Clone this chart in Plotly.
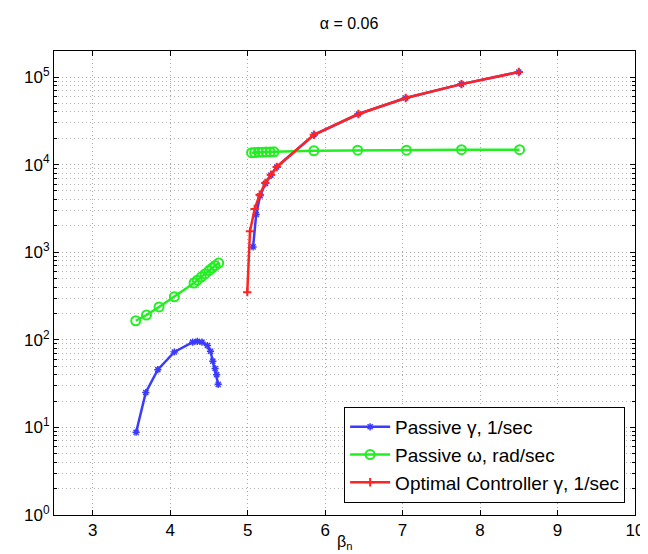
import plotly.graph_objects as go

# Passive gamma, 1/sec (lower arc + upper branch hidden under red)
passive_gamma_x1 = [3.56, 3.685, 3.84, 4.054, 4.29, 4.35, 4.41, 4.48, 4.52, 4.55, 4.58, 4.60, 4.62]
passive_gamma_y1 = [8.8, 25, 45.6, 72.6, 94, 96, 94, 86, 74, 57, 47, 40, 31]
passive_gamma_x2 = [5.07, 5.11, 5.16, 5.23, 5.30, 5.375, 5.855, 6.43, 7.04, 7.76, 8.5]
passive_gamma_y2 = [1150, 2700, 4400, 6100, 7600, 9400, 21900, 37800, 57600, 83000, 114000]

# Passive omega, rad/sec
passive_omega_x1 = [3.555, 3.694, 3.856, 4.054, 4.308, 4.35, 4.40, 4.45, 4.50, 4.54, 4.58, 4.626]
passive_omega_y1 = [165, 192, 237, 310, 445, 480, 520, 565, 615, 660, 705, 753]
passive_omega_x2 = [5.05, 5.09, 5.14, 5.19, 5.24, 5.29, 5.34, 5.855, 6.42, 7.05, 7.76, 8.51]
passive_omega_y2 = [13700, 13750, 13800, 13850, 13900, 13950, 14000, 14400, 14600, 14600, 14800, 14800]

# Optimal controller gamma, 1/sec
opt_gamma_x = [4.995, 5.03, 5.09, 5.155, 5.228, 5.30, 5.375, 5.855, 6.43, 7.04, 7.76, 8.5]
opt_gamma_y = [350, 1730, 3110, 4530, 6170, 7680, 9400, 21900, 37800, 57600, 83000, 114000]

x_ticks = [3, 4, 5, 6, 7, 8, 9, 10]
y_ticks = [1, 10, 100, 1000, 10000, 100000]
y_tick_labels = ["10<sup>0</sup>", "10<sup>1</sup>", "10<sup>2</sup>", "10<sup>3</sup>", "10<sup>4</sup>", "10<sup>5</sup>"]

BLUE = "#3b3bff"
GREEN = "#22ee22"
RED = "#ff2424"
FONT = "Liberation Sans, Arial"
GRID_DASH = "1px,3px"

fig = go.Figure()
fig.add_trace(go.Scatter(x=passive_gamma_x1, y=passive_gamma_y1, mode="lines+markers",
                         name="Passive \u03b3, 1/sec", legendgroup="g",
                         line=dict(color=BLUE, width=2.5),
                         marker=dict(symbol="asterisk-open", size=6, color=BLUE, line=dict(color=BLUE, width=1.5))))
fig.add_trace(go.Scatter(x=passive_gamma_x2, y=passive_gamma_y2, mode="lines+markers",
                         showlegend=False, legendgroup="g",
                         line=dict(color=BLUE, width=2.5),
                         marker=dict(symbol="asterisk-open", size=6, color=BLUE, line=dict(color=BLUE, width=1.5))))
fig.add_trace(go.Scatter(x=passive_omega_x1, y=passive_omega_y1, mode="lines+markers",
                         name="Passive \u03c9, rad/sec", legendgroup="w",
                         line=dict(color=GREEN, width=2.5),
                         marker=dict(symbol="circle-open", size=9, color=GREEN, line=dict(color=GREEN, width=2))))
fig.add_trace(go.Scatter(x=passive_omega_x2, y=passive_omega_y2, mode="lines+markers",
                         showlegend=False, legendgroup="w",
                         line=dict(color=GREEN, width=2.5),
                         marker=dict(symbol="circle-open", size=9, color=GREEN, line=dict(color=GREEN, width=2))))
fig.add_trace(go.Scatter(x=opt_gamma_x, y=opt_gamma_y, mode="lines+markers",
                         name="Optimal Controller \u03b3, 1/sec",
                         line=dict(color=RED, width=2.5),
                         marker=dict(symbol="cross-thin-open", size=6, color=RED, line=dict(color=RED, width=2))))

axis_common = dict(showline=True, linecolor="black", linewidth=1, mirror="ticks",
                   ticks="inside", ticklen=5, tickcolor="black",
                   showgrid=True, gridcolor="#a8a8a8", griddash=GRID_DASH, gridwidth=1,
                   zeroline=False, tickfont=dict(family=FONT, size=17, color="black"))

fig.update_xaxes(range=[2.5, 10], tickvals=x_ticks, ticktext=[str(t) for t in x_ticks], **axis_common)
fig.update_yaxes(type="log", range=[0, 5.297], tickvals=y_ticks, ticktext=y_tick_labels,
                 minor=dict(dtick="D1", ticks="inside", ticklen=3, tickcolor="black", showgrid=True,
                            gridcolor="#b4b4b4", griddash=GRID_DASH, gridwidth=1),
                 **axis_common)

fig.add_annotation(text="\u03b2<sub>n</sub>", xref="paper", yref="paper",
                   x=0.5, y=-(546 - 507) / 464, xanchor="center", yanchor="bottom",
                   showarrow=False, font=dict(family=FONT, size=16, color="black"))

fig.update_layout(
    width=648, height=554,
    margin=dict(l=46, r=12, t=43, b=47),
    plot_bgcolor="white", paper_bgcolor="white",
    title=dict(text="\u03b1 = 0.06", x=(46 + 636) / 2 / 648, xanchor="center", y=1 - 15 / 554, yanchor="middle",
               font=dict(family=FONT, size=16, color="black")),
    legend=dict(x=0.983, y=0.026, xanchor="right", yanchor="bottom",
                bgcolor="white", bordercolor="black", borderwidth=1,
                font=dict(family=FONT, size=19, color="black"),
                tracegroupgap=0, itemwidth=40),
    showlegend=True,
)

fig.write_html("out.html")
